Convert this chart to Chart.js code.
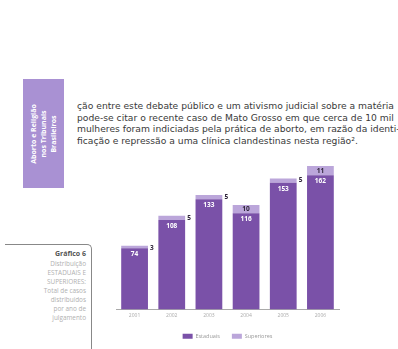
<!DOCTYPE html>
<html>
<head>
<meta charset="utf-8">
<script src="https://cdn.jsdelivr.net/npm/chart.js@4.4.0/dist/chart.umd.min.js"></script>
<style>
  html, body { margin: 0; padding: 0; background: #fff; }
  body { width: 398px; height: 349px; position: relative; overflow: hidden; font-family: "Open Sans", sans-serif; }
  #banner { position: absolute; left: 23px; top: 79px; width: 41px; height: 109px; background: #a991d3; }
  #banner div { position: absolute; left: 50%; top: 50%; width: 104px; transform: translate(-50%, -50%) rotate(-90deg);
    color: #fff; font-weight: bold; font-size: 7px; line-height: 10px; text-align: center; }
  #texto { position: absolute; left: 77px; top: 100px; font-family: "DejaVu Sans", sans-serif; font-size: 9.2px; line-height: 11.5px; color: #3a3a3a; white-space: nowrap; }
  #box { position: absolute; left: 5px; top: 244px; width: 86px; height: 110px; border-top: 1px solid #888; border-right: 1px solid #888; border-top-right-radius: 5px; }
  #box div { position: absolute; right: 5px; top: 4px; text-align: right; font-size: 6.4px; line-height: 9px; color: #b0b0b0; }
  #box b { display: block; font-size: 7px; line-height: 10px; color: #555; }
  #wrap { position: absolute; left: 105px; top: 140px; width: 245px; height: 209px; }
</style>
</head>
<body>
<div id="banner"><div>Aborto e Religião<br>nos Tribunais<br>Brasileiros</div></div>
<div id="texto">ção entre este debate público e um ativismo judicial sobre a matéria<br>pode-se citar o recente caso de Mato Grosso em que cerca de 10 mil<br>mulheres foram indiciadas pela prática de aborto, em razão da identi-<br>ficação e repressão a uma clínica clandestinas nesta região².</div>
<div id="box"><div><b>Gráfico 6</b>Distribuição<br>ESTADUAIS E<br>SUPERIORES:<br>Total de casos<br>distribuídos<br>por ano de<br>julgamento</div></div>
<div id="wrap"><canvas id="myChart"></canvas></div>
<script>
const anos = ["2001", "2002", "2003", "2004", "2005", "2006"];
const estaduais = [74, 108, 133, 116, 153, 162];
const superiores = [3, 5, 5, 10, 5, 11];

const corEstadual = "#7a51a8";
const corSuperior = "#bba6da";

// numeros sobre as barras
const rotulos = {
  id: "rotulos",
  afterDatasetsDraw(chart) {
    const ctx = chart.ctx;
    ctx.save();
    ctx.textAlign = "center";
    ctx.textBaseline = "middle";
    chart.getDatasetMeta(0).data.forEach((bar, i) => {
      ctx.font = "bold 6.5px 'Open Sans'";
      ctx.fillStyle = "#fff";
      ctx.fillText(estaduais[i], bar.x, bar.y + 6);
    });
    chart.getDatasetMeta(1).data.forEach((bar, i) => {
      ctx.font = "bold 6.5px 'Open Sans'";
      ctx.fillStyle = "#2e2438";
      if (superiores[i] >= 10) {
        ctx.fillText(superiores[i], bar.x, (bar.y + bar.base) / 2);
      } else {
        ctx.fillText(superiores[i], bar.x + bar.width / 2 + 4, bar.y + 2);
      }
    });
    ctx.restore();
  },
};

new Chart(document.getElementById("myChart"), {
  type: "bar",
  data: {
    labels: anos,
    datasets: [
      { label: "Estaduais", data: estaduais, backgroundColor: corEstadual },
      { label: "Superiores", data: superiores, backgroundColor: corSuperior },
    ],
  },
  options: {
    responsive: true,
    maintainAspectRatio: false,
    animation: false,
    layout: { padding: { left: 11, right: 11, top: 12, bottom: 0 } },
    plugins: {
      tooltip: { enabled: false },
      legend: {
        position: "bottom",
        labels: { boxWidth: 10, boxHeight: 5, padding: 12, color: "#999", font: { size: 5.5, family: "Open Sans" } },
      },
    },
    scales: {
      x: {
        stacked: true,
        grid: { display: false, drawTicks: false },
        border: { color: "#aaa" },
        categoryPercentage: 1,
        barPercentage: 0.7,
        ticks: { color: "#aaa", font: { size: 5, family: "Open Sans" }, padding: 3 },
      },
      y: { stacked: true, display: false, min: 0, max: 190 },
    },
  },
  plugins: [rotulos],
});
</script>
</body>
</html>
